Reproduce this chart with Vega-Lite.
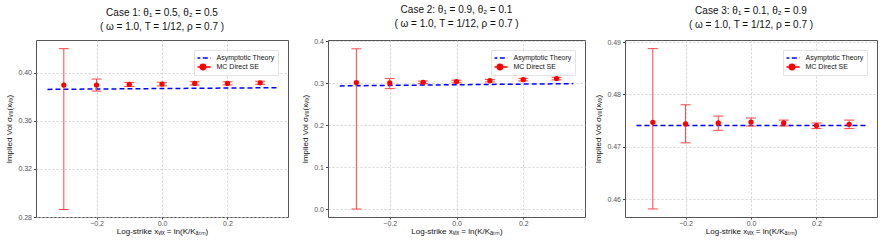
{
  "$schema": "https://vega.github.io/schema/vega-lite/v6.json",
  "padding": {"left": 5, "top": 4, "right": 2, "bottom": 2},
  "spacing": 40,
  "bounds": "flush",
  "background": "white",
  "config": {
    "font": "Liberation Sans",
    "view": {"stroke": "#555555", "strokeWidth": 1},
    "axis": {
      "domain": false,
      "grid": true,
      "gridColor": "#c8c8c8",
      "gridDash": [2, 2],
      "gridWidth": 0.8,
      "tickColor": "#444444",
      "tickSize": 2.5,
      "labelColor": "#555555",
      "labelFontSize": 7,
      "labelPadding": 2,
      "titleColor": "#111111",
      "titleFontSize": 8,
      "titleFontWeight": "normal",
      "titlePadding": 4
    },
    "axisX": {"tickSize": 2, "labelPadding": 0, "titlePadding": 1},
    "title": {"fontSize": 10, "fontWeight": "normal", "color": "#111111", "anchor": "middle", "offset": 8, "lineHeight": 14},
    "legend": {
      "orient": "top-right",
      "offset": 10,
      "title": null,
      "labelFontSize": 7,
      "labelColor": "#111111",
      "labelOffset": 8,
      "fillColor": "white",
      "strokeColor": "#e3e3e3",
      "padding": 3.5,
      "rowPadding": 0,
      "clipHeight": 9,
      "symbolSize": 81,
      "symbolStrokeWidth": 1.5
    }
  },
  "datasets": {
    "mc": [
      {"case": 1, "x": -0.3, "vol": 0.3898, "lo": 0.2862, "hi": 0.4201},
      {"case": 1, "x": -0.2, "vol": 0.3898, "lo": 0.3848, "hi": 0.3948},
      {"case": 1, "x": -0.1, "vol": 0.3903, "lo": 0.3886, "hi": 0.3920},
      {"case": 1, "x": 0.0, "vol": 0.3906, "lo": 0.3891, "hi": 0.3921},
      {"case": 1, "x": 0.1, "vol": 0.3912, "lo": 0.3898, "hi": 0.3926},
      {"case": 1, "x": 0.2, "vol": 0.3912, "lo": 0.3899, "hi": 0.3925},
      {"case": 1, "x": 0.3, "vol": 0.3917, "lo": 0.3904, "hi": 0.3930},
      {"case": 2, "x": -0.3, "vol": 0.3015, "lo": 0.0, "hi": 0.382},
      {"case": 2, "x": -0.2, "vol": 0.3007, "lo": 0.287, "hi": 0.311},
      {"case": 2, "x": -0.1, "vol": 0.302, "lo": 0.299, "hi": 0.305},
      {"case": 2, "x": 0.0, "vol": 0.304, "lo": 0.301, "hi": 0.307},
      {"case": 2, "x": 0.1, "vol": 0.306, "lo": 0.303, "hi": 0.309},
      {"case": 2, "x": 0.2, "vol": 0.3085, "lo": 0.3055, "hi": 0.3115},
      {"case": 2, "x": 0.3, "vol": 0.311, "lo": 0.308, "hi": 0.314},
      {"case": 3, "x": -0.3, "vol": 0.47468, "lo": 0.45814, "hi": 0.48875},
      {"case": 3, "x": -0.2, "vol": 0.47436, "lo": 0.47076, "hi": 0.47803},
      {"case": 3, "x": -0.1, "vol": 0.47455, "lo": 0.47316, "hi": 0.47587},
      {"case": 3, "x": 0.0, "vol": 0.47473, "lo": 0.47398, "hi": 0.4755},
      {"case": 3, "x": 0.1, "vol": 0.47455, "lo": 0.47398, "hi": 0.47511},
      {"case": 3, "x": 0.2, "vol": 0.47405, "lo": 0.47348, "hi": 0.47455},
      {"case": 3, "x": 0.3, "vol": 0.4743, "lo": 0.47348, "hi": 0.47511}
    ],
    "theory": [
      {"case": 1, "x": -0.35, "vol": 0.3862},
      {"case": 1, "x": -0.2, "vol": 0.3865},
      {"case": 1, "x": 0.0, "vol": 0.3869},
      {"case": 1, "x": 0.2, "vol": 0.3873},
      {"case": 1, "x": 0.35, "vol": 0.3876},
      {"case": 2, "x": -0.35, "vol": 0.2936},
      {"case": 2, "x": -0.2, "vol": 0.2948},
      {"case": 2, "x": 0.0, "vol": 0.2963},
      {"case": 2, "x": 0.2, "vol": 0.2978},
      {"case": 2, "x": 0.35, "vol": 0.299},
      {"case": 3, "x": -0.35, "vol": 0.47405},
      {"case": 3, "x": -0.2, "vol": 0.47405},
      {"case": 3, "x": 0.0, "vol": 0.47405},
      {"case": 3, "x": 0.2, "vol": 0.47405},
      {"case": 3, "x": 0.35, "vol": 0.47405}
    ]
  },
  "resolve": {"scale": {"color": "independent", "y": "independent"}, "legend": {"color": "independent"}},
  "hconcat": [
    {
      "width": 252, "height": 177,
      "title": {"text": ["Case 1: θ₁ = 0.5, θ₂ = 0.5", "( ω = 1.0, T = 1/12, ρ = 0.7 )"]},
      "encoding": {
        "x": {"field": "x", "type": "quantitative", "scale": {"domain": [-0.385, 0.385], "nice": false, "zero": false},
              "axis": {"values": [-0.2, 0, 0.2], "format": ".1f", "title": "Log-strike xᵥᵢₓ = ln(K/Kₐₜₘ)"}},
        "y": {"field": "vol", "type": "quantitative", "scale": {"domain": [0.28, 0.4273], "nice": false, "zero": false},
              "axis": {"values": [0.28, 0.32, 0.36, 0.40], "format": ".2f", "title": "Implied Vol σᵥᵢₓ(xᵥᵢₓ)"}}
      },
      "layer": [
        {"data": {"name": "theory"}, "transform": [{"filter": "datum.case == 1"}],
         "mark": {"type": "line", "strokeDash": [5, 3], "strokeWidth": 1.5},
         "encoding": {"color": {"datum": "Asymptotic Theory", "scale": {"domain": ["Asymptotic Theory", "MC Direct SE"], "range": ["#0000ff", "#ff0000"]},
           "legend": {"encode": {"symbols": {"update": {
             "shape": {"signal": "datum.value == 'MC Direct SE' ? 'M-1.7,0L1.7,0M-0.6,0A0.6,0.6 0 1,1 0.6,0A0.6,0.6 0 1,1 -0.6,0Z' : 'M-1.7,0L1.7,0'"},
             "size": {"value": 81},
             "strokeWidth": {"value": 1.5},
             "strokeDash": {"signal": "datum.value == 'MC Direct SE' ? [] : [5, 2.5]"},
             "fill": {"signal": "datum.value == 'MC Direct SE' ? '#ff0000' : 'transparent'"},
             "stroke": {"signal": "datum.value == 'MC Direct SE' ? '#ff3333' : '#0000ff'"},
             "opacity": {"value": 1}}}}}}}},
        {"data": {"name": "mc"}, "transform": [{"filter": "datum.case == 1"}],
         "mark": {"type": "rule", "color": "#ff4444", "strokeWidth": 1},
         "encoding": {"y": {"field": "lo", "type": "quantitative"}, "y2": {"field": "hi"}}},
        {"data": {"name": "mc"}, "transform": [{"filter": "datum.case == 1"}],
         "mark": {"type": "tick", "orient": "horizontal", "color": "#ff4444", "size": 10, "thickness": 1, "opacity": 1},
         "encoding": {"y": {"field": "lo", "type": "quantitative"}}},
        {"data": {"name": "mc"}, "transform": [{"filter": "datum.case == 1"}],
         "mark": {"type": "tick", "orient": "horizontal", "color": "#ff4444", "size": 10, "thickness": 1, "opacity": 1},
         "encoding": {"y": {"field": "hi", "type": "quantitative"}}},
        {"data": {"name": "mc"}, "transform": [{"filter": "datum.case == 1"}],
         "mark": {"type": "point", "filled": true, "size": 28, "opacity": 1},
         "encoding": {"color": {"datum": "MC Direct SE"}}}
      ]
    },
    {
      "width": 257, "height": 177,
      "title": {"text": ["Case 2: θ₁ = 0.9, θ₂ = 0.1", "( ω = 1.0, T = 1/12, ρ = 0.7 )"]},
      "encoding": {
        "x": {"field": "x", "type": "quantitative", "scale": {"domain": [-0.385, 0.385], "nice": false, "zero": false},
              "axis": {"values": [-0.2, 0, 0.2], "format": ".1f", "title": "Log-strike xᵥᵢₓ = ln(K/Kₐₜₘ)"}},
        "y": {"field": "vol", "type": "quantitative", "scale": {"domain": [-0.019, 0.403], "nice": false, "zero": false},
              "axis": {"values": [0, 0.1, 0.2, 0.3, 0.4], "format": ".1f", "title": "Implied Vol σᵥᵢₓ(xᵥᵢₓ)"}}
      },
      "layer": [
        {"data": {"name": "theory"}, "transform": [{"filter": "datum.case == 2"}],
         "mark": {"type": "line", "strokeDash": [5, 3], "strokeWidth": 1.5},
         "encoding": {"color": {"datum": "Asymptotic Theory", "scale": {"domain": ["Asymptotic Theory", "MC Direct SE"], "range": ["#0000ff", "#ff0000"]},
           "legend": {"encode": {"symbols": {"update": {
             "shape": {"signal": "datum.value == 'MC Direct SE' ? 'M-1.7,0L1.7,0M-0.6,0A0.6,0.6 0 1,1 0.6,0A0.6,0.6 0 1,1 -0.6,0Z' : 'M-1.7,0L1.7,0'"},
             "size": {"value": 81},
             "strokeWidth": {"value": 1.5},
             "strokeDash": {"signal": "datum.value == 'MC Direct SE' ? [] : [5, 2.5]"},
             "fill": {"signal": "datum.value == 'MC Direct SE' ? '#ff0000' : 'transparent'"},
             "stroke": {"signal": "datum.value == 'MC Direct SE' ? '#ff3333' : '#0000ff'"},
             "opacity": {"value": 1}}}}}}}},
        {"data": {"name": "mc"}, "transform": [{"filter": "datum.case == 2"}],
         "mark": {"type": "rule", "color": "#ff4444", "strokeWidth": 1},
         "encoding": {"y": {"field": "lo", "type": "quantitative"}, "y2": {"field": "hi"}}},
        {"data": {"name": "mc"}, "transform": [{"filter": "datum.case == 2"}],
         "mark": {"type": "tick", "orient": "horizontal", "color": "#ff4444", "size": 10, "thickness": 1, "opacity": 1},
         "encoding": {"y": {"field": "lo", "type": "quantitative"}}},
        {"data": {"name": "mc"}, "transform": [{"filter": "datum.case == 2"}],
         "mark": {"type": "tick", "orient": "horizontal", "color": "#ff4444", "size": 10, "thickness": 1, "opacity": 1},
         "encoding": {"y": {"field": "hi", "type": "quantitative"}}},
        {"data": {"name": "mc"}, "transform": [{"filter": "datum.case == 2"}],
         "mark": {"type": "point", "filled": true, "size": 28, "opacity": 1},
         "encoding": {"color": {"datum": "MC Direct SE"}}}
      ]
    },
    {
      "width": 252, "height": 177,
      "title": {"text": ["Case 3: θ₁ = 0.1, θ₂ = 0.9", "( ω = 1.0, T = 1/12, ρ = 0.7 )"]},
      "encoding": {
        "x": {"field": "x", "type": "quantitative", "scale": {"domain": [-0.385, 0.385], "nice": false, "zero": false},
              "axis": {"values": [-0.2, 0, 0.2], "format": ".1f", "title": "Log-strike xᵥᵢₓ = ln(K/Kₐₜₘ)"}},
        "y": {"field": "vol", "type": "quantitative", "scale": {"domain": [0.4566, 0.4904], "nice": false, "zero": false},
              "axis": {"values": [0.46, 0.47, 0.48, 0.49], "format": ".2f", "title": "Implied Vol σᵥᵢₓ(xᵥᵢₓ)"}}
      },
      "layer": [
        {"data": {"name": "theory"}, "transform": [{"filter": "datum.case == 3"}],
         "mark": {"type": "line", "strokeDash": [5, 3], "strokeWidth": 1.5},
         "encoding": {"color": {"datum": "Asymptotic Theory", "scale": {"domain": ["Asymptotic Theory", "MC Direct SE"], "range": ["#0000ff", "#ff0000"]},
           "legend": {"encode": {"symbols": {"update": {
             "shape": {"signal": "datum.value == 'MC Direct SE' ? 'M-1.7,0L1.7,0M-0.6,0A0.6,0.6 0 1,1 0.6,0A0.6,0.6 0 1,1 -0.6,0Z' : 'M-1.7,0L1.7,0'"},
             "size": {"value": 81},
             "strokeWidth": {"value": 1.5},
             "strokeDash": {"signal": "datum.value == 'MC Direct SE' ? [] : [5, 2.5]"},
             "fill": {"signal": "datum.value == 'MC Direct SE' ? '#ff0000' : 'transparent'"},
             "stroke": {"signal": "datum.value == 'MC Direct SE' ? '#ff3333' : '#0000ff'"},
             "opacity": {"value": 1}}}}}}}},
        {"data": {"name": "mc"}, "transform": [{"filter": "datum.case == 3"}],
         "mark": {"type": "rule", "color": "#ff4444", "strokeWidth": 1},
         "encoding": {"y": {"field": "lo", "type": "quantitative"}, "y2": {"field": "hi"}}},
        {"data": {"name": "mc"}, "transform": [{"filter": "datum.case == 3"}],
         "mark": {"type": "tick", "orient": "horizontal", "color": "#ff4444", "size": 10, "thickness": 1, "opacity": 1},
         "encoding": {"y": {"field": "lo", "type": "quantitative"}}},
        {"data": {"name": "mc"}, "transform": [{"filter": "datum.case == 3"}],
         "mark": {"type": "tick", "orient": "horizontal", "color": "#ff4444", "size": 10, "thickness": 1, "opacity": 1},
         "encoding": {"y": {"field": "hi", "type": "quantitative"}}},
        {"data": {"name": "mc"}, "transform": [{"filter": "datum.case == 3"}],
         "mark": {"type": "point", "filled": true, "size": 28, "opacity": 1},
         "encoding": {"color": {"datum": "MC Direct SE"}}}
      ]
    }
  ]
}
